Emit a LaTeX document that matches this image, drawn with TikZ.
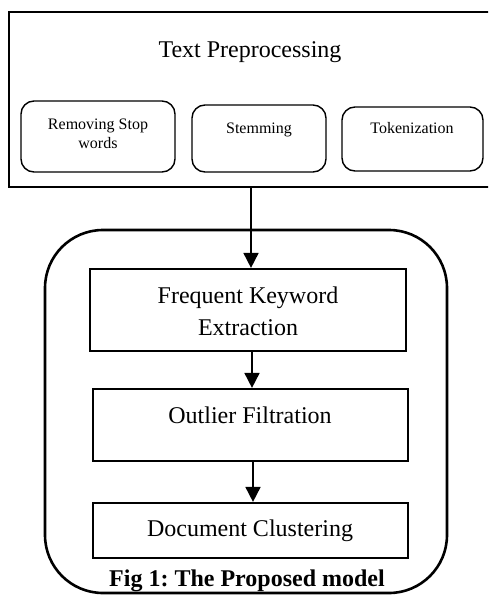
\documentclass[tikz,border=0pt]{standalone}
\usepackage{fontspec}
\setmainfont{Liberation Serif}
\usetikzlibrary{arrows.meta}
\frenchspacing
\begin{document}
\begin{tikzpicture}[x=1pt,y=-1pt,
  framebox/.style={draw, line width=2.8pt, inner sep=0pt},
  subbox/.style={draw, line width=1.4pt, rounded corners=13pt, inner sep=0pt},
  modelbox/.style={draw, line width=2.6pt, rounded corners=58pt, inner sep=0pt},
  stagebox/.style={draw, line width=2.2pt, inner sep=0pt},
  bigtext/.style={font=\fontsize{24}{32}\selectfont, inner sep=0pt, align=center},
  smalltext/.style={font=\fontsize{16}{19}\selectfont, inner sep=0pt, align=center},
  flow/.style={line width=1.8pt, -{Triangle[length=15pt,width=15pt]}}]
\useasboundingbox (0,0) rectangle (488,595);
\clip (0,0) rectangle (488,595);

% Text preprocessing frame (runs past the right edge)
\node[framebox, minimum width=491pt, minimum height=175pt] (pre) at (254.5,99.5) {};
\node[bigtext, anchor=base] (pretitle) at (250,57) {Text Preprocessing};

% Preprocessing steps
\node[subbox, minimum width=154pt, minimum height=71pt] (stop) at (98,136.5) {};
\node[smalltext] (stoptext) at (98,134) {Removing Stop\\words};
\node[subbox, minimum width=134pt, minimum height=67pt] (stem) at (259,138.5) {};
\node[smalltext, anchor=base] (stemtext) at (259,133) {Stemming};
\node[subbox, minimum width=141pt, minimum height=64pt] (tok) at (412.5,139) {};
\node[smalltext, anchor=base] (toktext) at (412,133) {Tokenization};

% Proposed model
\node[modelbox, minimum width=402pt, minimum height=363pt] (model) at (246,411.5) {};

\node[stagebox, minimum width=316pt, minimum height=82pt] (freq) at (248,310) {};
\node[bigtext] (freqtext) at (248,311) {Frequent Keyword\\Extraction};

\node[stagebox, minimum width=315pt, minimum height=72pt] (outl) at (250.5,425) {};
\node[bigtext, anchor=base] (outltext) at (250,423) {Outlier Filtration};

\node[stagebox, minimum width=315pt, minimum height=55pt] (doc) at (250.5,530.5) {};
\node[bigtext, anchor=base] (doctext) at (250,536) {Document Clustering};

\node[bigtext, font=\fontsize{24}{28}\selectfont\bfseries, anchor=base] (caption) at (247,586) {Fig 1: The Proposed model};

% Connectors
\coordinate (c1) at (251,0);
\coordinate (c2) at (252,0);
\coordinate (c3) at (253,0);
\draw[flow] (pre.south -| c1) -- (freq.north -| c1);
\draw[flow] (freq.south -| c2) -- (outl.north -| c2);
\draw[flow] (outl.south -| c3) -- (doc.north -| c3);
\end{tikzpicture}
\end{document}
